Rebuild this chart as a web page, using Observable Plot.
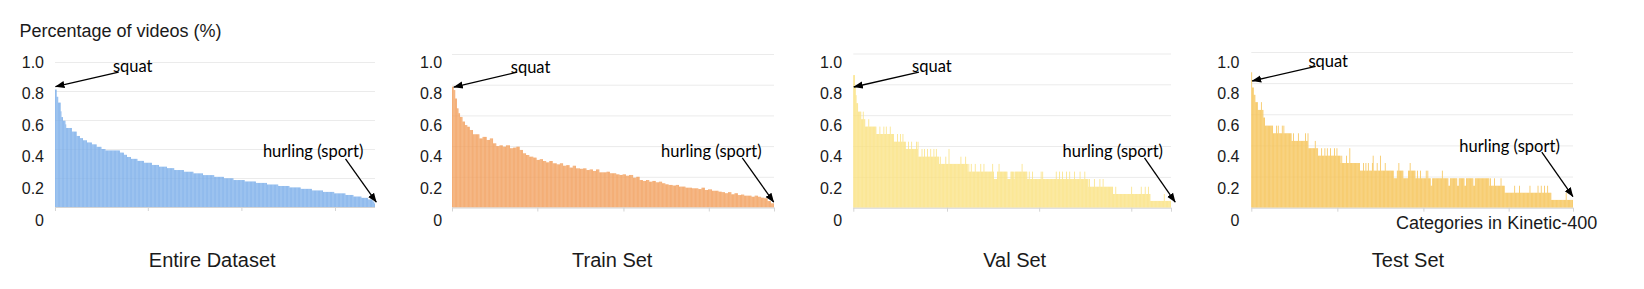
<!DOCTYPE html>
<html><head><meta charset="utf-8">
<script src="https://cdn.jsdelivr.net/npm/d3@7"></script>
<script src="https://cdn.jsdelivr.net/npm/@observablehq/plot@0.6"></script>
<style>
html,body{margin:0;padding:0;background:#fff;}
#wrap{display:flex;width:1644px;height:289px;overflow:hidden;}
#wrap svg{display:block;overflow:visible;background:transparent;}
</style></head><body><div id="wrap"></div>
<script>
// ---------------- data ----------------
const panelTitles = ["Entire Dataset", "Train Set", "Val Set", "Test Set"];
const yTicks = [0, 0.2, 0.4, 0.6, 0.8, 1.0];
const gridTicks = [0.2, 0.4, 0.6, 0.8, 1.0];
const xAxisTitle = "Categories in Kinetic-400";
const yAxisTitle = "Percentage of videos (%)";
const categoryCount = 400;

// Entire dataset: bar heights (sorted), run-length encoded (value, number of categories)
const entireValues = [0.81,0.76,0.72,0.66,0.62,0.595,0.57,0.545,0.52,0.49,
  0.475,0.46,0.445,0.432,0.415,0.40,0.39,0.375,0.36,0.345,
  0.332,0.318,0.305,0.29,0.278,0.268,0.255,0.243,0.232,0.22,
  0.208,0.198,0.186,0.176,0.166,0.155,0.145,0.135,0.125,0.114,
  0.104,0.094,0.083,0.072,0.063,0.052,0.038,0.025];
const entireCounts = [2,2,3,1,2,3,1,7,6,4,
  4,5,6,6,6,5,18,5,4,5,
  8,8,10,9,10,9,12,12,12,14,
  12,12,14,14,14,14,14,14,14,14,
  14,14,10,10,8,6,2,1];

// Train set
const trainValues = [0.787,0.765,0.71,0.646,0.614,0.59,0.56,0.537,0.526,0.505,
  0.477,0.477,0.45,0.46,0.44,0.45,0.418,0.40,0.405,0.396,
  0.405,0.386,0.39,0.396,0.375,0.353,0.342,0.331,0.325,0.31,
  0.315,0.303,0.294,0.303,0.288,0.281,0.288,0.272,0.276,0.26,
  0.272,0.255,0.252,0.255,0.244,0.248,0.238,0.248,0.229,0.229,
  0.233,0.223,
  0.223,0.216,0.212,0.216,0.207,0.212,0.194,0.20,0.179,0.173,
  0.179,0.168,0.173,0.164,0.168,0.158,0.151,0.147,0.143,0.147,
  0.136,0.136,0.129,0.129,0.125,0.125,0.12,0.129,0.114,0.118,
  0.109,0.109,0.103,0.10,0.093,0.10,0.086,0.093,0.081,0.084,
  0.077,0.077,0.07,0.077,0.07,0.064,0.06,0.042,0.027];
const trainCounts = [2,2,2,2,2,3,3,3,3,4,
  4,4,4,5,4,4,4,4,4,4,
  5,4,4,4,4,4,4,5,4,4,
  4,4,4,4,5,4,4,4,4,4,
  4,5,4,4,4,4,4,4,5,4,
  4,4,
  4,4,4,4,4,5,4,4,4,4,
  4,4,4,4,4,4,4,5,4,4,
  4,4,4,4,4,4,4,4,4,5,
  4,4,4,4,4,4,4,4,4,4,
  4,5,4,4,4,4,4,4,4];

// Val set
const valValues = [0.86,0.786,0.73,0.678,0.623,0.574,0.623,0.574,0.526,0.574,0.526,
  0.478,0.526,0.478,0.526,0.478,0.526,0.478,0.526,0.478,
  0.428,0.478,0.428,0.478,0.428,0.478,0.428,
  0.381,0.428,0.381,0.428,0.381,0.428,0.381,0.428,
  0.331,0.381,0.331,0.381,0.331,0.381,0.331,0.381,0.331,0.381,0.331,0.381,0.331,
  0.284,0.331,0.284,0.331,0.284,0.381,0.284,0.331,0.284,0.331,0.284,
  0.234,0.284,0.234,0.284,0.234,0.284,0.234,0.284,0.234,0.284,0.234,0.284,0.234,0.186,0.234,0.284,0.234,0.186,0.234,0.186,0.234,0.284,0.234,
  0.186,0.234,0.186,0.234,0.186,0.234,0.186,0.234,0.186,0.234,0.186,0.234,0.186,0.234,0.186,0.234,0.186,0.234,0.186,0.234,0.186,0.234,0.186,0.234,0.186,
  0.136,0.186,0.136,0.186,0.136,0.186,0.136,0.186,0.136,
  0.089,0.136,0.089,0.136,0.089,0.136,0.089,0.136,0.089,0.136,0.089,
  0.044,0.089,0.044];
const valCounts = [2,1,1,2,4,2,1,2,4,1,9,
  4,1,4,1,2,1,4,1,4,
  4,1,3,1,2,1,3,
  3,1,3,1,5,1,1,1,
  4,1,2,1,3,1,3,1,3,1,2,1,3,
  1,1,6,1,3,1,14,1,5,1,2,
  1,1,2,1,4,1,6,1,3,1,10,1,1,4,2,1,10,4,4,1,9,1,6,
  2,1,3,1,10,1,1,1,16,1,3,1,3,1,4,1,3,1,5,1,6,1,5,1,4,
  1,1,5,1,6,1,3,1,12,
  3,1,19,1,11,1,4,1,3,1,2,
  17,1,8];

// Test set
const testValues = [0.87,0.772,0.725,0.678,0.628,0.678,0.628,0.579,0.527,
  0.478,0.527,0.478,0.527,0.478,0.527,0.478,0.527,0.478,
  0.429,0.478,0.429,0.478,0.429,0.478,0.429,0.478,
  0.382,0.429,0.382,
  0.334,0.382,0.334,0.382,0.334,0.382,0.334,0.382,0.334,0.382,0.334,0.382,0.334,
  0.287,0.334,0.287,0.334,0.287,0.382,0.287,
  0.238,0.287,0.238,0.287,0.238,0.287,0.238,0.287,0.334,0.238,0.287,0.238,0.334,0.238,0.287,0.238,0.189,0.238,0.287,0.238,0.189,0.238,0.287,0.238,
  0.189,0.238,0.189,0.238,0.189,0.238,0.189,0.238,
  0.189,0.141,0.189,0.238,0.189,0.141,0.189,0.141,0.189,0.141,0.189,0.141,0.189,
  0.141,0.189,0.141,0.189,0.141,0.189,0.141,
  0.096,0.141,0.096,0.141,0.096,0.141,0.096,0.141,0.096,0.141,0.096,0.141,0.096,0.141,0.096,
  0.05,0.096,0.05];
const testCounts = [1,2,2,3,4,1,2,2,10,
  4,1,1,1,4,1,1,1,9,
  2,1,5,1,8,1,2,1,
  8,1,3,
  4,1,3,1,2,1,3,1,4,1,2,1,4,
  1,1,5,1,3,1,12,
  4,1,2,1,2,1,4,1,1,4,1,3,1,5,1,10,4,2,1,5,6,2,1,6,
  2,1,3,1,6,1,1,1,
  3,2,12,1,7,2,9,2,7,2,9,2,18,
  1,1,4,1,7,1,4,
  12,1,5,1,12,1,9,1,3,1,3,1,3,1,4,
  18,1,8];

// x-axis tick marks (category index)
const entireTicks = [0, 116, 233, 350];
const trainTicks = [0, 106, 213, 319, 400];
const valTicks = [0, 118, 234, 350, 400];
const testTicks = [0, 107, 214, 320, 400];

// annotation anchors (category index, percentage)
const entireNotes = [
  {label: "squat", tx: 96.5, ty: 0.969, x1: 79, y1: 0.933, x2: 0, y2: 0.834},
  {label: "hurling (sport)", tx: 322, ty: 0.386, x1: 362.5, y1: 0.336, x2: 401, y2: 0.037}];
const trainNotes = [
  {label: "squat", tx: 97, ty: 0.917, x1: 80.4, y1: 0.885, x2: 1.6, y2: 0.787},
  {label: "hurling (sport)", tx: 321.5, ty: 0.368, x1: 360, y1: 0.327, x2: 399, y2: 0.038}];
const valNotes = [
  {label: "squat", tx: 98.3, ty: 0.916, x1: 82, y1: 0.883, x2: 0, y2: 0.786},
  {label: "hurling (sport)", tx: 326, ty: 0.368, x1: 366, y1: 0.327, x2: 404.7, y2: 0.039}];
const testNotes = [
  {label: "squat", tx: 95, ty: 0.939, x1: 79.4, y1: 0.911, x2: 0.5, y2: 0.817},
  {label: "hurling (sport)", tx: 320.5, ty: 0.397, x1: 360.6, y1: 0.36, x2: 399.3, y2: 0.075}];

// ---------------- layout / style ----------------
const H = 289;
const textColor = "#1a1a1a";
const gridColor = "#ebebeb";
const axisColor = "#d4d4d4";
const baseFont = "'Liberation Sans', Arial, sans-serif";
const noteFont = "Lato, 'Open Sans', sans-serif";
const labelTop = 62, labelStep = 31.6;

const panels = [
  {x0: 0, w: 400, left: 55, right: 375, top: 62, base: 207, color: "#7db0ea", pad: 11.5, titleDx: -3.3,
   values: entireValues, counts: entireCounts, ticks: entireTicks, notes: entireNotes},
  {x0: 400, w: 400, left: 452, right: 774, top: 54, base: 207.5, color: "#f2a05e", pad: 10.3, titleDx: -1.3,
   values: trainValues, counts: trainCounts, ticks: trainTicks, notes: trainNotes},
  {x0: 800, w: 400, left: 853.3, right: 1171, top: 53.5, base: 207.7, color: "#fae283", pad: 11.6, titleDx: 2,
   values: valValues, counts: valCounts, ticks: valTicks, notes: valNotes},
  {x0: 1200, w: 444, left: 1251.3, right: 1573, top: 52, base: 207.7, color: "#f6c458", pad: 12.3, titleDx: -4.7,
   values: testValues, counts: testCounts, ticks: testTicks, notes: testNotes}
];

function expand(values, counts) {
  const rows = [];
  let c = 0;
  values.forEach((v, i) => {
    for (let k = 0; k < counts[i]; k++) { rows.push({c, v}); c++; }
  });
  return rows;
}

function filledHead(color, context) {
  const doc = (context && context.document) || document;
  const ns = "http://www.w3.org/2000/svg";
  const m = doc.createElementNS(ns, "marker");
  m.setAttribute("viewBox", "-9 -4.5 10 9");
  m.setAttribute("markerWidth", "10");
  m.setAttribute("markerHeight", "9");
  m.setAttribute("markerUnits", "userSpaceOnUse");
  m.setAttribute("refX", "0");
  m.setAttribute("refY", "0");
  m.setAttribute("orient", "auto");
  const p = doc.createElementNS(ns, "path");
  p.setAttribute("d", "M-9,-3.6L0.5,0L-9,3.6Z");
  p.setAttribute("fill", color);
  p.setAttribute("stroke", "none");
  m.appendChild(p);
  return m;
}
let head = filledHead;
try { Plot.link([], {x1: 0, y1: 0, x2: 0, y2: 0, markerEnd: filledHead}); } catch (e) { head = "arrow"; }

const fmt = d => d === 0 ? "0" : d.toFixed(1);
const wrap = document.getElementById("wrap");

panels.forEach((p, i) => {
  const rows = expand(p.values, p.counts);
  const gridPx = t => p.top + (1 - t) * (p.base - p.top);
  const labelPx = t => labelTop + (1 - t) / 0.2 * labelStep;
  const marks = [
    Plot.gridY(gridTicks, {stroke: gridColor, strokeOpacity: 1}),
    Plot.rectY(rows, {x1: "c", x2: d => d.c + 1, y: "v", fill: p.color}),
    Plot.ruleY([0], {stroke: axisColor}),
    Plot.axisX(p.ticks, {tickSize: 4, stroke: axisColor, tickFormat: () => "", label: null}),
    ...yTicks.map(t => Plot.axisY([t], {tickSize: 0, tickPadding: p.pad, dy: labelPx(t) - gridPx(t),
      tickFormat: fmt, label: null, fill: textColor})),
    Plot.link(p.notes, {x1: "x1", y1: "y1", x2: "x2", y2: "y2", stroke: "#000", strokeWidth: 1.3, markerEnd: head}),
    Plot.text(p.notes, {x: "tx", y: "ty", text: "label", fontFamily: noteFont, fontSize: 16.5, fill: "#000"}),
    Plot.text([panelTitles[i]], {text: d => d, frameAnchor: "bottom", dx: p.titleDx, dy: 59, fontSize: 20, fill: textColor})
  ];
  if (i === 0) {
    marks.push(Plot.text([yAxisTitle], {text: d => d, frameAnchor: "top-left", textAnchor: "start",
      dx: 19 - p.left, dy: 23.3 - p.top, fontSize: 18, fill: textColor}));
  }
  if (i === 3) {
    marks.push(Plot.text([xAxisTitle], {text: d => d, frameAnchor: "bottom-right", textAnchor: "end",
      dx: 23.7, dy: 20.6, fontSize: 18, fill: textColor}));
  }
  const chart = Plot.plot({
    width: p.w,
    height: H,
    marginLeft: p.left - p.x0,
    marginRight: p.x0 + p.w - p.right,
    marginTop: p.top,
    marginBottom: H - p.base,
    x: {domain: [0, categoryCount], label: null},
    y: {domain: [0, 1], label: null},
    style: {fontFamily: baseFont, fontSize: "16px", color: textColor, background: "transparent", overflow: "visible"},
    marks
  });
  wrap.appendChild(chart);
});
</script>
</body></html>
